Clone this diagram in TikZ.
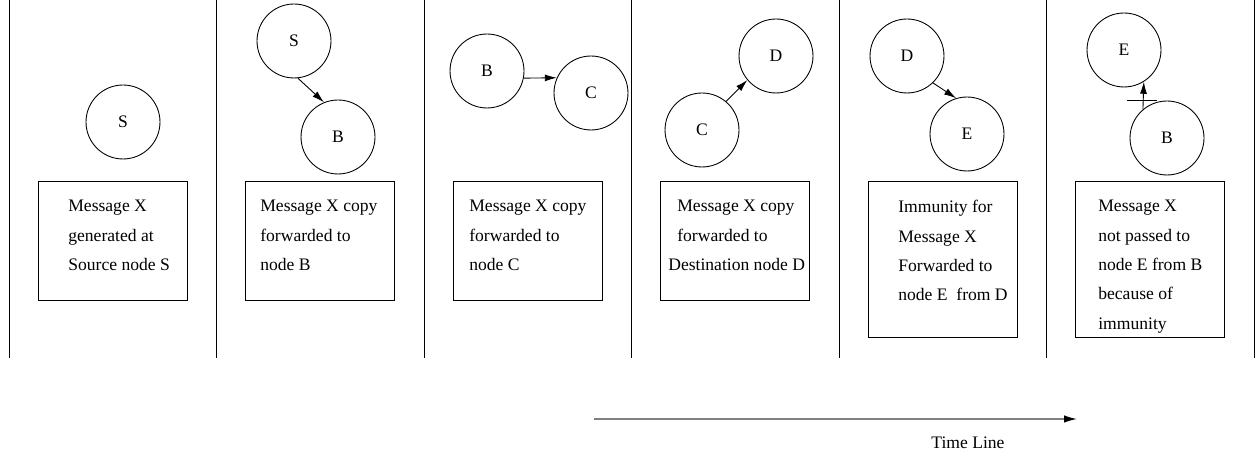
\documentclass[tikz,border=0pt]{standalone}
\usepackage{fontspec}
\setmainfont{Liberation Serif}
\usetikzlibrary{arrows.meta}

\begin{document}
\begin{tikzpicture}[x=0.02cm,y=-0.02cm,
  peer/.style={draw,circle,line width=0.5pt,minimum size=1.48cm,inner sep=0pt,font=\fontsize{10pt}{12pt}\selectfont},
  msg/.style={anchor=north west,align=left,inner sep=0pt,font=\fontsize{10pt}{16.7pt}\selectfont},
  hop/.style={line width=0.5pt,-{Latex[length=2.4mm,width=1.4mm]}}]
  \useasboundingbox (0,0) rectangle (1255,455);

  % panel separators
  \foreach \i in {0,...,6} {
    \draw[line width=0.55pt] ({9+207.5*\i},0) -- ({9+207.5*\i},358);
  }

  % message boxes (last two are taller)
  \foreach \i/\h in {0/300,1/300,2/300,3/300,4/337,5/337} {
    \draw[line width=0.5pt] ({38+207.5*\i},181) rectangle ({187+207.5*\i},\h);
  }

  % panel 1: source
  \node[peer] (s1) at (123,122) {S};
  \node[msg] (m1) at (68,200) {Message X\\generated at\\Source node S};

  % panel 2: S -> B
  \node[peer] (s2) at (294,41) {S};
  \node[peer] (b2) at (338,137) {B};
  \draw[hop] (s2.-84) -- (b2.112);
  \node[msg] (m2) at (260,200) {Message X copy\\forwarded to\\node B};

  % panel 3: B -> C
  \node[peer] (b3) at (487,71) {B};
  \node[peer] (c3) at (591,93) {C};
  \draw[hop] (b3.-11) -- (c3.156);
  \node[msg] (m3) at (469,200) {Message X copy\\forwarded to\\node C};

  % panel 4: C -> D
  \node[peer] (c4) at (702,130) {C};
  \node[peer] (d4) at (776,56) {D};
  \draw[hop] (c4.50) -- (d4.220);
  \node[msg] (m4) at (677,200) {Message X copy\\forwarded to\\\hspace*{-0.18cm}Destination node D};

  % panel 5: immunity D -> E
  \node[peer] (d5) at (907,56) {D};
  \node[peer] (e5) at (967,134) {E};
  \draw[hop] (d5.-46) -- (e5.107);
  \node[msg] (m5) at (898,200) {Immunity for\\Message X\\Forwarded to\\node E\ \ from D};

  % panel 6: B -/-> E
  \node[peer] (e6) at (1124,50) {E};
  \node[peer] (b6) at (1167,138) {B};
  \draw[hop] (b6.130) -- (e6.-58.7);
  \coordinate (blk) at (1143,100);
  \draw[line width=0.5pt] ([xshift=-16*0.02cm]blk) -- ([xshift=14*0.02cm]blk);
  \node[msg] (m6) at (1098,200) {Message X\\not passed to\\node E from B\\because of\\immunity};

  % time line
  \coordinate (t0) at (594,419);
  \coordinate (t1) at (1077,419);
  \draw[gray,line width=0.8pt,-{Latex[black,length=2.6mm,width=1.5mm]}] (t0) -- (t1);
  \node[font=\fontsize{10pt}{12pt}\selectfont] (tl) at (968,443) {Time Line};
\end{tikzpicture}
\end{document}
